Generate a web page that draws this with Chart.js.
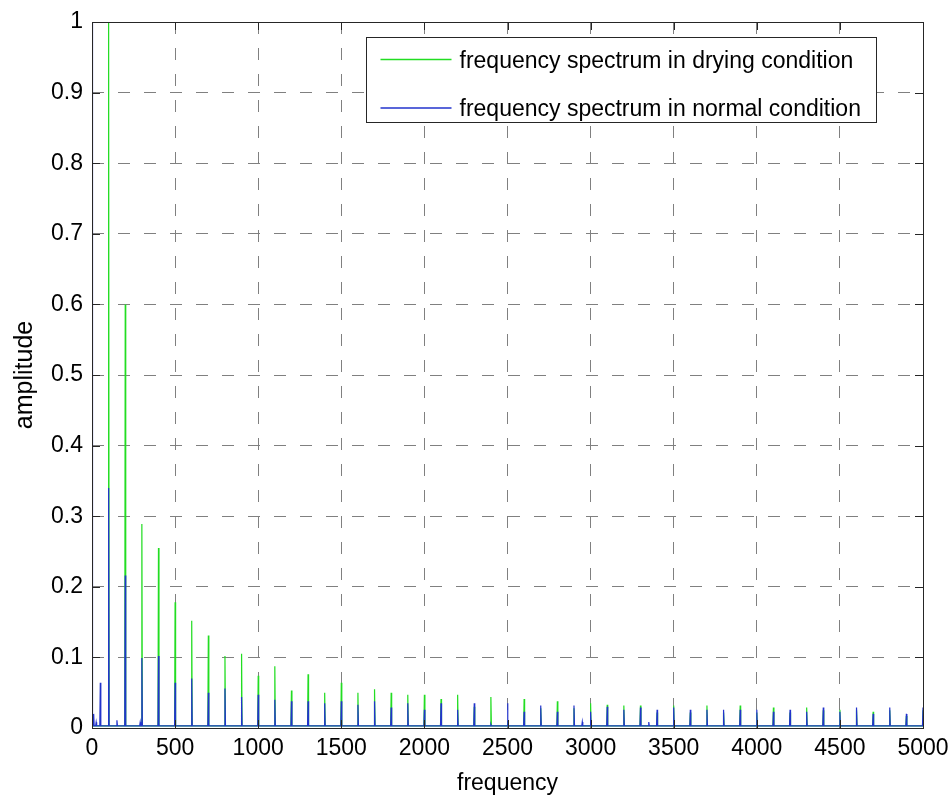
<!DOCTYPE html>
<html>
<head>
<meta charset="utf-8">
<script src="https://cdn.jsdelivr.net/npm/chart.js@4.4.1/dist/chart.umd.min.js"></script>
<style>
  html, body { margin: 0; padding: 0; background: #ffffff; }
  #wrap { width: 952px; height: 799px; }
</style>
</head>
<body>
<div id="wrap"><canvas id="c" width="952" height="799"></canvas></div>
<script>
// ---- data ----
const seriesNames = ['frequency spectrum in drying condition', 'frequency spectrum in normal condition'];

const dryFreq = [100, 200, 300, 400, 500, 600, 700, 800, 900, 1000, 1100, 1200, 1300, 1400, 1500, 1600, 1700, 1800, 1900, 2000,
                 2100, 2200, 2300, 2400, 2500, 2600, 2700, 2800, 2900, 3000, 3100, 3200, 3300, 3400, 3500, 3600, 3700, 3800, 3900, 4000,
                 4100, 4200, 4300, 4400, 4500, 4600, 4700, 4800, 4900, 5000];
const dryAmp  = [1.0, 0.60, 0.289, 0.255, 0.178, 0.152, 0.131, 0.102, 0.105, 0.074, 0.0875, 0.053, 0.076, 0.050, 0.064, 0.050, 0.055, 0.050, 0.047, 0.047,
                 0.041, 0.047, 0.030, 0.044, 0.010, 0.041, 0.028, 0.038, 0.028, 0.035, 0.033, 0.032, 0.032, 0.022, 0.032, 0.022, 0.032, 0.022, 0.032, 0.022,
                 0.029, 0.022, 0.029, 0.025, 0.026, 0.025, 0.023, 0.025, 0.017, 0.025];

const normFreq = [0, 10, 25, 50, 100, 150, 200, 290, 300, 400, 500, 600, 700, 800, 900, 1000, 1100, 1200, 1300, 1400, 1500, 1600, 1700, 1800, 1900, 2000,
                  2100, 2200, 2300, 2400, 2500, 2600, 2700, 2800, 2900, 2950, 3000, 3100, 3200, 3300, 3350, 3400, 3500, 3600, 3700, 3800, 3900, 4000,
                  4100, 4200, 4300, 4400, 4500, 4600, 4700, 4800, 4900, 5000];
const normAmp  = [1.0, 0.020, 0.008, 0.064, 0.340, 0.011, 0.216, 0.008, 0.099, 0.102, 0.064, 0.070, 0.050, 0.056, 0.044, 0.047, 0.040, 0.038, 0.038, 0.035, 0.038, 0.033, 0.038, 0.029, 0.035, 0.026,
                  0.035, 0.026, 0.035, 0.005, 0.035, 0.023, 0.032, 0.023, 0.032, 0.0085, 0.023, 0.030, 0.026, 0.029, 0.0085, 0.026, 0.029, 0.026, 0.026, 0.026, 0.026, 0.026,
                  0.023, 0.026, 0.023, 0.029, 0.023, 0.029, 0.020, 0.029, 0.020, 0.029];

const baseLevel = 0.003;
const xTickLabels = ['0', '500', '1000', '1500', '2000', '2500', '3000', '3500', '4000', '4500', '5000'];
const yTickLabels = ['0', '0.1', '0.2', '0.3', '0.4', '0.5', '0.6', '0.7', '0.8', '0.9', '1'];
const xTitle = 'frequency';
const yTitle = 'amplitude';

// ---- build spike traces from the arrays ----
function spikeTrace(freqs, amps, base, halfWidth) {
  const pts = [{x: 0, y: base}];
  for (let i = 0; i < freqs.length; i++) {
    pts.push({x: freqs[i] - halfWidth, y: base});
    pts.push({x: freqs[i], y: amps[i]});
    pts.push({x: freqs[i] + halfWidth, y: base});
  }
  pts.push({x: 5000, y: base});
  return pts;
}

const GREEN = '#22dd22';
const BLUE = '#2233cc';
const FONT = '"Liberation Sans", Arial, Helvetica, sans-serif';

const frameAndLegend = {
  id: 'frameAndLegend',
  beforeDraw(chart) {
    const ctx = chart.ctx;
    ctx.save();
    ctx.fillStyle = '#ffffff';
    ctx.fillRect(0, 0, chart.width, chart.height);
    ctx.restore();
  },
  afterDraw(chart) {
    const ctx = chart.ctx;
    const a = chart.chartArea;
    const xs = chart.scales.x, ys = chart.scales.y;
    ctx.save();
    // frame
    ctx.strokeStyle = '#262626';
    ctx.lineWidth = 1;
    ctx.setLineDash([]);
    ctx.strokeRect(Math.round(a.left) + 0.5, Math.round(a.top) + 0.5,
                   Math.round(a.right - a.left), Math.round(a.bottom - a.top));
    // inner tick marks on all four sides
    const tl = 8;
    ctx.beginPath();
    xs.ticks.forEach(t => {
      const px = Math.round(xs.getPixelForValue(t.value)) + 0.5;
      ctx.moveTo(px, a.bottom); ctx.lineTo(px, a.bottom - tl);
      ctx.moveTo(px, a.top); ctx.lineTo(px, a.top + tl);
    });
    ys.ticks.forEach(t => {
      const py = Math.round(ys.getPixelForValue(t.value)) + 0.5;
      ctx.moveTo(a.left, py); ctx.lineTo(a.left + tl, py);
      ctx.moveTo(a.right, py); ctx.lineTo(a.right - tl, py);
    });
    ctx.stroke();

    // legend box (MATLAB style, inside the axes at top right)
    const bx = Math.round(a.right - 557) + 0.5, by = Math.round(a.top + 15) + 0.5;
    const bw = 510, bh = 85;
    ctx.fillStyle = '#ffffff';
    ctx.fillRect(bx, by, bw, bh);
    ctx.strokeStyle = '#262626';
    ctx.strokeRect(bx, by, bw, bh);
    const colors = [GREEN, BLUE];
    const rows = [22, 70.5];
    const baselines = [30, 78];
    ctx.font = '23px ' + FONT;
    ctx.textBaseline = 'alphabetic';
    ctx.textAlign = 'left';
    for (let i = 0; i < seriesNames.length; i++) {
      ctx.strokeStyle = colors[i];
      ctx.lineWidth = 1.3;
      ctx.beginPath();
      ctx.moveTo(bx + 14, by + rows[i]);
      ctx.lineTo(bx + 85, by + rows[i]);
      ctx.stroke();
      ctx.fillStyle = '#000000';
      ctx.fillText(seriesNames[i], bx + 93, by + baselines[i]);
    }
    ctx.restore();
  }
};

new Chart(document.getElementById('c'), {
  type: 'line',
  data: {
    datasets: [
      {
        label: seriesNames[0],
        data: spikeTrace(dryFreq, dryAmp, baseLevel, 3),
        borderColor: GREEN,
        borderWidth: 1.2,
        pointRadius: 0,
        tension: 0,
        fill: false,
        order: 2
      },
      {
        label: seriesNames[1],
        data: spikeTrace(normFreq, normAmp, baseLevel, 3),
        borderColor: BLUE,
        borderWidth: 1.2,
        pointRadius: 0,
        tension: 0,
        fill: false,
        order: 1
      }
    ]
  },
  options: {
    responsive: false,
    animation: false,
    devicePixelRatio: 1,
    layout: { padding: { top: 22, right: 29, left: 0, bottom: 0 } },
    plugins: {
      legend: { display: false },
      tooltip: { enabled: false }
    },
    scales: {
      x: {
        type: 'linear',
        min: 0,
        max: 5000,
        afterFit(s) { s.height = 71; s.paddingLeft = 0; s.paddingRight = 0; },
        ticks: {
          stepSize: 500,
          autoSkip: false,
          maxRotation: 0,
          padding: 7,
          color: '#000000',
          font: { family: FONT, size: 23 },
          callback: (v, i) => xTickLabels[i]
        },
        grid: {
          color: '#808080',
          lineWidth: 1,
          drawTicks: false,
          borderDash: [12, 14]
        },
        border: { display: false, dash: [12, 14] },
        title: {
          display: true,
          text: xTitle,
          color: '#000000',
          font: { family: FONT, size: 23 },
          padding: { top: 0, bottom: 2 }
        }
      },
      y: {
        type: 'linear',
        min: 0,
        max: 1,
        afterFit(s) { s.width = 92; s.paddingTop = 0; s.paddingBottom = 0; },
        ticks: {
          stepSize: 0.1,
          autoSkip: false,
          padding: 9,
          color: '#000000',
          font: { family: FONT, size: 23 },
          callback: (v, i) => yTickLabels[i]
        },
        grid: {
          color: '#808080',
          lineWidth: 1,
          drawTicks: false,
          borderDash: [12, 14]
        },
        border: { display: false, dash: [12, 14] },
        title: {
          display: true,
          text: yTitle,
          color: '#000000',
          font: { family: FONT, size: 25 },
          padding: { top: 10, bottom: 0 }
        }
      }
    }
  },
  plugins: [frameAndLegend]
});
</script>
</body>
</html>
